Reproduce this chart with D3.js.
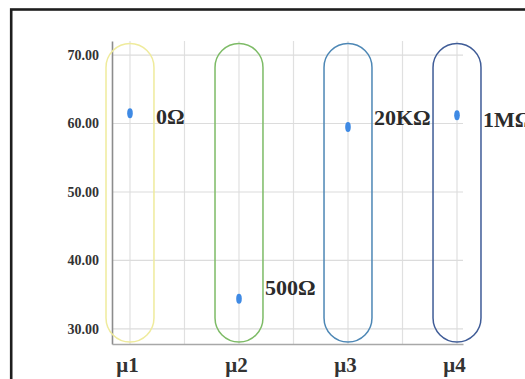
<!DOCTYPE html>
<html>
<head>
<meta charset="utf-8">
<script src="https://cdn.jsdelivr.net/npm/d3@7"></script>
<style>
  html, body { margin: 0; padding: 0; background: #fff; }
  svg { display: block; }
  text { font-family: "Liberation Serif", "Times New Roman", serif; font-weight: bold; }
</style>
</head>
<body>
<svg id="chart" width="525" height="379"></svg>
<script>
// Categories (group positions along x)
const categories = ["μ1", "μ2", "μ3", "μ4"];
// Measured value for each group
const values = [61.5, 34.4, 59.5, 61.2];
// Resistance label for each group and the level it sits at
const resistLabels = ["0Ω", "500Ω", "20KΩ", "1MΩ"];
const labelLevels = [60.6, 35.7, 60.5, 60.3];
// Y axis ticks
const yTicks = [30, 40, 50, 60, 70];
// Capsule outline colours and vertical extent (data units)
const capsuleColors = ["#efeb9c", "#7dbb66", "#4d87b5", "#3f5c97"];
const capsuleExtent = [28.1, 71.7];

const svg = d3.select("#chart");

// Outer frame
svg.append("rect")
  .attr("x", 11.2).attr("y", 9.5)
  .attr("width", 540).attr("height", 400)
  .attr("fill", "none").attr("stroke", "#1e1e1e").attr("stroke-width", 2.6);

const x = d3.scaleLinear().domain([0.835, 4.055]).range([112, 463]);
const y = d3.scaleLinear().domain([27.8, 72.05]).range([344, 41]);

// Vertical grid lines at each group and halfway between
const xGrid = d3.range(1, 4.01, 0.5);
svg.append("g")
  .selectAll("line").data(xGrid).join("line")
  .attr("x1", d => x(d)).attr("x2", d => x(d))
  .attr("y1", y.range()[1]).attr("y2", y.range()[0])
  .attr("stroke", "#e0e0e0").attr("stroke-width", 1.2);

// Horizontal grid lines
svg.append("g")
  .selectAll("line").data(yTicks).join("line")
  .attr("x1", x.range()[0]).attr("x2", x.range()[1])
  .attr("y1", d => y(d)).attr("y2", d => y(d))
  .attr("stroke", "#dcdcdc").attr("stroke-width", 1.2);

// Y axis
const yAxis = svg.append("g")
  .attr("transform", `translate(${x.range()[0]},0)`)
  .call(d3.axisLeft(y).tickValues(yTicks).tickFormat(d3.format(".2f")).tickSize(0).tickPadding(13));
yAxis.select(".domain").attr("stroke", "#8c8c8c").attr("stroke-width", 1.6);
yAxis.selectAll("text").attr("font-size", 14).attr("fill", "#333")
  .attr("font-family", "'Liberation Serif', serif").attr("font-weight", "bold");

// X axis
const xAxis = svg.append("g")
  .attr("transform", `translate(0,${y.range()[0]})`)
  .call(d3.axisBottom(x).tickValues([1, 2, 3, 4]).tickFormat((d, i) => categories[i]).tickSize(0).tickPadding(13));
xAxis.select(".domain").attr("stroke", "#a8a8a8").attr("stroke-width", 1.4);
xAxis.selectAll("text").attr("font-size", 21).attr("fill", "#333").attr("dx", -3)
  .attr("font-family", "'Liberation Serif', serif").attr("font-weight", "bold");

// Capsule outlines around each group
const capW = 0.44;
svg.append("g")
  .selectAll("rect").data(categories).join("rect")
  .attr("x", (d, i) => x(i + 1 - capW / 2))
  .attr("y", y(capsuleExtent[1]))
  .attr("width", x(1 + capW) - x(1))
  .attr("height", y(capsuleExtent[0]) - y(capsuleExtent[1]))
  .attr("rx", (x(1 + capW) - x(1)) / 2)
  .attr("fill", "none")
  .attr("stroke", (d, i) => capsuleColors[i])
  .attr("stroke-width", 1.5);

// Data points
svg.append("g")
  .selectAll("ellipse").data(values).join("ellipse")
  .attr("cx", (d, i) => x(i + 1))
  .attr("cy", d => y(d))
  .attr("rx", 2.8).attr("ry", 5)
  .attr("fill", "#3f8ae4");

// Resistance labels
svg.append("g")
  .selectAll("text").data(resistLabels).join("text")
  .attr("x", (d, i) => x(i + 1 + capW / 2) + 2)
  .attr("y", (d, i) => y(labelLevels[i]))
  .attr("dominant-baseline", "middle")
  .attr("font-size", 22)
  .attr("fill", "#2b2b2b")
  .text(d => d);
</script>
</body>
</html>
